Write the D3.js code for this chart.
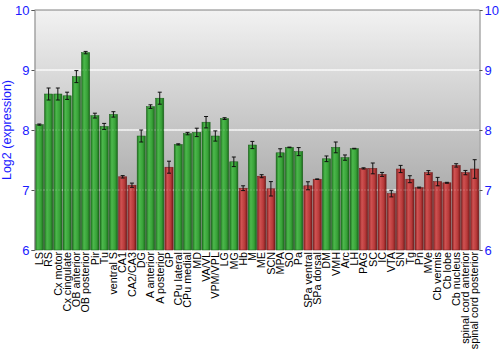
<!DOCTYPE html>
<html>
<head>
<meta charset="utf-8">
<script src="https://cdn.jsdelivr.net/npm/d3@7"></script>
<style>
  body { margin: 0; background: #fff; }
  text { font-family: "Liberation Sans", Arial, sans-serif; }
</style>
</head>
<body>
<div id="chart"></div>
<script>
var categories = ["LS", "RS", "Cx motor", "Cx cingulate", "OB anterior", "OB posterior", "Pir", "Tu",
  "ventral S", "CA1", "CA2/CA3", "DG", "A anterior", "A posterior", "GP", "CPu lateral", "CPu medial",
  "MD", "VA/VL", "VPM/VPL", "LG", "MG", "Hb", "M", "ME", "SCN", "MPA", "SO", "Pa", "SPa ventral",
  "SPa dorsal", "DM", "VMH", "Arc", "LH", "PAG", "SC", "IC", "VTA", "SN", "Tg", "Pn", "MVe",
  "Cb vermis", "Cb lobe", "Cb nucleus", "spinal cord anterior", "spinal cord posterior"];

var values = [8.09, 8.60, 8.60, 8.57, 8.89, 9.29, 8.24, 8.06,
  8.26, 7.22, 7.08, 7.90, 8.39, 8.53, 7.38, 7.76, 7.94,
  7.96, 8.13, 7.90, 8.19, 7.47, 7.03, 7.75, 7.23, 7.02, 7.62, 7.71, 7.64, 7.07,
  7.18, 7.52, 7.71, 7.54, 7.69, 7.36, 7.36, 7.26, 6.94, 7.35, 7.18, 7.04, 7.29,
  7.14, 7.12, 7.41, 7.29, 7.35];

var errors = [0.01, 0.10, 0.10, 0.06, 0.10, 0.02, 0.04, 0.05,
  0.045, 0.02, 0.035, 0.10, 0.03, 0.10, 0.10, 0.01, 0.02,
  0.07, 0.095, 0.085, 0.015, 0.08, 0.04, 0.06, 0.025, 0.12, 0.067, 0.005, 0.067, 0.067,
  0.005, 0.047, 0.09, 0.044, 0.005, 0.01, 0.09, 0.033, 0.055, 0.06, 0.058, 0.008, 0.033,
  0.07, 0.008, 0.028, 0.036, 0.155];

// g = green, r = red
var groups = ["g","g","g","g","g","g","g","g",
  "g","r","r","g","g","g","r","g","g",
  "g","g","g","g","g","r","g","r","r","g","g","g","r",
  "r","g","g","g","g","r","r","r","r","r","r","r","r",
  "r","r","r","r","r"];

var yTicks = [6, 7, 8, 9, 10];

var width = 500, height = 350;
var plotLeft = 34.5, plotRight = 479.5, plotTop = 10, plotBottom = 250;

var svg = d3.select("#chart").append("svg")
  .attr("width", width)
  .attr("height", height);

var defs = svg.append("defs");

var bg = defs.append("linearGradient").attr("id", "bg")
  .attr("x1", 0).attr("y1", 0).attr("x2", 0).attr("y2", 1);
bg.append("stop").attr("offset", "0%").attr("stop-color", "#f2f2f2");
bg.append("stop").attr("offset", "100%").attr("stop-color", "#979797");

function barGrad(id, c0, c1, c2, c3) {
  var g = defs.append("linearGradient").attr("id", id)
    .attr("x1", 0).attr("y1", 0).attr("x2", 1).attr("y2", 0);
  g.append("stop").attr("offset", "0%").attr("stop-color", c0);
  g.append("stop").attr("offset", "30%").attr("stop-color", c1);
  g.append("stop").attr("offset", "70%").attr("stop-color", c2);
  g.append("stop").attr("offset", "100%").attr("stop-color", c3);
}
barGrad("gGreen", "#1d741d", "#4cb84c", "#38a238", "#1a681a");
barGrad("gRed", "#8a2222", "#d05252", "#b83a3a", "#7a1c1c");

var x = d3.scaleBand()
  .domain(categories)
  .range([plotLeft, plotRight])
  .paddingInner(0.12)
  .paddingOuter(0.08);

var y = d3.scaleLinear()
  .domain([6, 10])
  .range([plotBottom, plotTop]);

// background
svg.append("rect")
  .attr("x", plotLeft).attr("y", plotTop)
  .attr("width", plotRight - plotLeft).attr("height", plotBottom - plotTop)
  .attr("fill", "url(#bg)");

var inner = yTicks.filter(function(d){ return d > 6 && d < 10; });

// grid lines behind bars
svg.selectAll(".grid")
  .data(inner)
  .enter().append("line")
  .attr("class", "grid")
  .attr("x1", plotLeft).attr("x2", plotRight)
  .attr("y1", function(d){ return y(d); })
  .attr("y2", function(d){ return y(d); })
  .attr("stroke", "#ffffff")
  .attr("stroke-opacity", 0.8)
  .attr("stroke-width", 1.5);

var data = categories.map(function(c, i){
  return {name: c, value: values[i], err: errors[i], group: groups[i]};
});

// bars
svg.selectAll(".bar")
  .data(data)
  .enter().append("rect")
  .attr("class", "bar")
  .attr("x", function(d){ return x(d.name); })
  .attr("width", x.bandwidth())
  .attr("y", function(d){ return y(d.value); })
  .attr("height", function(d){ return plotBottom - y(d.value); })
  .attr("fill", function(d){ return d.group == "g" ? "url(#gGreen)" : "url(#gRed)"; })
  .attr("stroke", function(d){ return d.group == "g" ? "#1a5e1a" : "#6e1a1a"; })
  .attr("stroke-width", 0.5);

// faint grid over bars
svg.selectAll(".grid2")
  .data(inner)
  .enter().append("line")
  .attr("class", "grid2")
  .attr("x1", plotLeft).attr("x2", plotRight)
  .attr("y1", function(d){ return y(d); })
  .attr("y2", function(d){ return y(d); })
  .attr("stroke", "#ffffff")
  .attr("stroke-opacity", 0.35)
  .attr("stroke-dasharray", "1,2");

// error bars
var eb = svg.selectAll(".err")
  .data(data)
  .enter().append("g")
  .attr("class", "err");
var cap = 2;
function cx(d){ return x(d.name) + x.bandwidth() / 2; }
eb.append("line")
  .attr("x1", cx).attr("x2", cx)
  .attr("y1", function(d){ return y(d.value + d.err); })
  .attr("y2", function(d){ return y(d.value - d.err); })
  .attr("stroke", "#111").attr("stroke-width", 1);
eb.append("line")
  .attr("x1", function(d){ return cx(d) - cap; })
  .attr("x2", function(d){ return cx(d) + cap; })
  .attr("y1", function(d){ return y(d.value + d.err); })
  .attr("y2", function(d){ return y(d.value + d.err); })
  .attr("stroke", "#111").attr("stroke-width", 1);
eb.append("line")
  .attr("x1", function(d){ return cx(d) - cap; })
  .attr("x2", function(d){ return cx(d) + cap; })
  .attr("y1", function(d){ return y(d.value - d.err); })
  .attr("y2", function(d){ return y(d.value - d.err); })
  .attr("stroke", "#111").attr("stroke-width", 1);

// top frame
svg.append("line").attr("x1", plotLeft).attr("x2", plotRight)
  .attr("y1", plotTop).attr("y2", plotTop)
  .attr("stroke", "#808080");

// axes
var yLeft = svg.append("g")
  .attr("transform", "translate(" + plotLeft + ",0)")
  .call(d3.axisLeft(y).tickValues(yTicks).tickSize(3).tickPadding(2).tickFormat(d3.format("d")));
var yRight = svg.append("g")
  .attr("transform", "translate(" + plotRight + ",0)")
  .call(d3.axisRight(y).tickValues(yTicks).tickSize(3).tickPadding(2).tickFormat(d3.format("d")));

[yLeft, yRight].forEach(function(a){
  a.select(".domain").attr("stroke", "#808080");
  a.selectAll(".tick line").attr("stroke", "#555");
  a.selectAll(".tick text")
    .attr("fill", "#1a1aff")
    .style("font-size", "13px")
    .style("font-family", "'Liberation Sans', Arial, sans-serif");
});

// x labels
svg.selectAll(".xlab")
  .data(categories)
  .enter().append("text")
  .attr("class", "xlab")
  .attr("transform", function(d){
    return "translate(" + (x(d) + x.bandwidth() / 2) + "," + (plotBottom + 2) + ") rotate(-90)";
  })
  .attr("text-anchor", "end")
  .attr("dy", "0.35em")
  .style("font-size", "10.8px")
  .attr("fill", "#000")
  .text(function(d){ return d; });

// y title
svg.append("text")
  .attr("transform", "translate(11,130) rotate(-90)")
  .attr("text-anchor", "middle")
  .style("font-size", "12.5px")
  .attr("fill", "#1a1aff")
  .text("Log2 (expression)");
</script>
</body>
</html>
